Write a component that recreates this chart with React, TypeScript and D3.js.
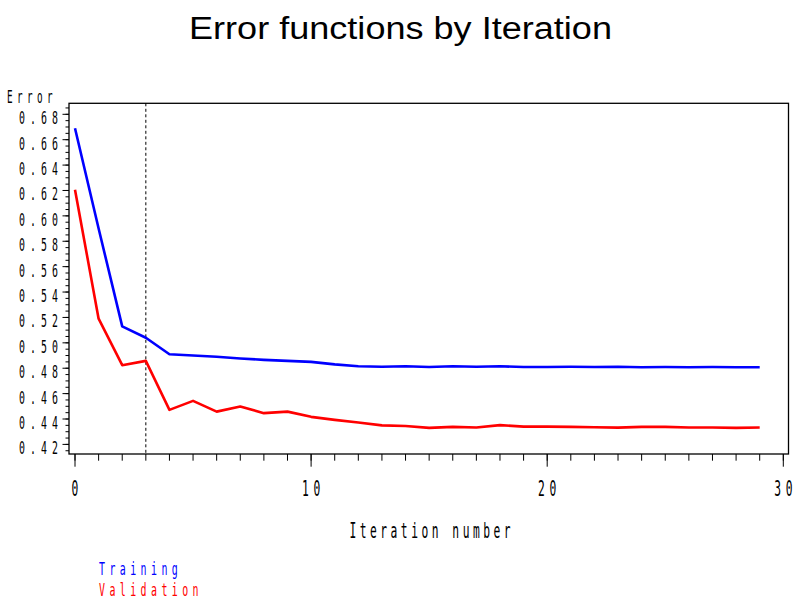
import React from 'react'
import * as d3 from 'd3'

// values
const iterations = d3.range(0, 30)
const training = [
  0.669, 0.590, 0.513, 0.504, 0.491, 0.490, 0.489, 0.4877, 0.4866, 0.4858,
  0.485, 0.483, 0.4816, 0.4812, 0.4815, 0.481, 0.4815, 0.4812, 0.4815, 0.481,
  0.481, 0.4812, 0.481, 0.4812, 0.4808, 0.481, 0.4808, 0.481, 0.4808, 0.4808,
]
const validation = [
  0.6206, 0.519, 0.4824, 0.4858, 0.4472, 0.4543, 0.4458, 0.4498, 0.4446, 0.4458,
  0.4417, 0.4393, 0.4373, 0.435, 0.4345, 0.433, 0.4338, 0.4333, 0.4352, 0.434,
  0.434, 0.4338, 0.4335, 0.4332, 0.4338, 0.4338, 0.4333, 0.4333, 0.433, 0.4333,
]
const yMajorTicks = d3.range(0, 14).map(i => +(0.42 + i * 0.02).toFixed(2))
const yMinorTicks = d3.range(0, 55).map(i => +(0.415 + i * 0.005).toFixed(3))
const xMajorTicks = [0, 10, 20, 30]
const xMinorTicks = d3.range(0, 31)
const selectedIteration = 3
const seriesNames = ['Training', 'Validation']
const seriesColors = ['#0000ff', '#ff0000']

const MONO = "'DejaVu Sans Mono', monospace"

// narrow, widely spaced lettering like the SAS simplex font
function SasText({ x, y, text, size, pitch, anchor = 'start', fill = '#000' }: {
  x: number; y: number; text: string; size: number; pitch: number;
  anchor?: 'start' | 'middle' | 'end'; fill?: string
}) {
  const sx = 0.55
  const adv = 0.602 * size * sx
  const ls = (pitch - adv) / sx
  const shift = anchor === 'end' ? ls * sx : anchor === 'middle' ? (ls * sx) / 2 : 0
  return (
    <g transform={`translate(${x + shift},${y}) scale(${sx},1)`}>
      <text textAnchor={anchor} fontSize={size} letterSpacing={ls} fill={fill} fontFamily={MONO}>
        {text}
      </text>
    </g>
  )
}

export default function App() {
  const width = 800
  const height = 600
  const frame = { left: 69, right: 788.5, top: 103.3, bottom: 454 }

  const x = d3.scaleLinear().domain([0, 30]).range([75, 783.3])
  const y = d3.scaleLinear().domain([0.42, 0.68]).range([444.4, 114.3])

  const line = d3.line<number>()
    .x((_, i) => x(iterations[i]))
    .y(d => y(d))

  const series = [training, validation]

  return (
    <div style={{ position: 'absolute', left: 0, top: 0 }}>
      <svg width={width} height={height} style={{ display: 'block', background: '#fff' }}>
        <text
          x={189} y={39} fontSize={31}
          fontFamily="'Liberation Sans', Arial, sans-serif"
          textLength={423} lengthAdjust="spacingAndGlyphs"
        >
          Error functions by Iteration
        </text>

        {/* frame */}
        <rect
          x={frame.left} y={frame.top}
          width={frame.right - frame.left} height={frame.bottom - frame.top}
          fill="none" stroke="#000" strokeWidth={1.3}
        />

        {/* y axis ticks */}
        {yMinorTicks.map(t => (
          <line key={'ym' + t} x1={frame.left - 3.5} x2={frame.left} y1={y(t)} y2={y(t)} stroke="#000" strokeWidth={1} />
        ))}
        {yMajorTicks.map(t => (
          <g key={'yM' + t}>
            <line x1={frame.left - 6.5} x2={frame.left} y1={y(t)} y2={y(t)} stroke="#000" strokeWidth={1} />
            <SasText x={58} y={y(t) + 10} text={t.toFixed(2)} size={18} pitch={11} anchor="end" />
          </g>
        ))}
        <SasText x={7} y={103} text="Error" size={17} pitch={10} />

        {/* x axis ticks */}
        {xMajorTicks.map(t => (
          <SasText key={'xl' + t} x={x(t)} y={496} text={String(t)} size={20.5} pitch={11.5} anchor="middle" />
        ))}
        {xMinorTicks.map(t => (
          <line key={'xm' + t} x1={x(t)} x2={x(t)} y1={frame.bottom} y2={frame.bottom + 6.7} stroke="#000" strokeWidth={1} />
        ))}
        {xMajorTicks.map(t => (
          <line key={'xM' + t} x1={x(t)} x2={x(t)} y1={frame.bottom} y2={frame.bottom + 12.7} stroke="#000" strokeWidth={1} />
        ))}
        <SasText x={430} y={537.5} text="Iteration number" size={20.5} pitch={10.3} anchor="middle" />

        {/* reference line at the selected iteration */}
        <line
          x1={x(selectedIteration)} x2={x(selectedIteration)} y1={frame.top} y2={frame.bottom}
          stroke="#000" strokeWidth={1} strokeDasharray="3 2.5"
        />

        {series.map((s, i) => (
          <path key={seriesNames[i]} d={line(s) ?? ''} fill="none" stroke={seriesColors[i]} strokeWidth={2.6} strokeLinejoin="round" />
        ))}

        {/* legend */}
        {seriesNames.map((name, i) => (
          <SasText key={name} x={99} y={575 + i * 20.5} text={name} size={18} pitch={10.4} fill={seriesColors[i]} />
        ))}
      </svg>
    </div>
  )
}
